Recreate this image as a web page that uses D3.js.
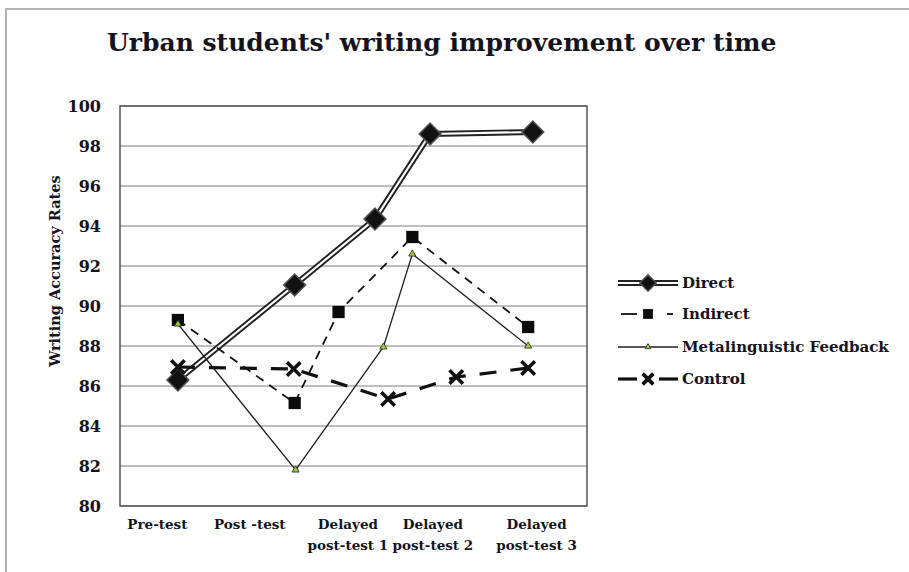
<!DOCTYPE html>
<html>
<head>
<meta charset="utf-8">
<script src="https://cdn.jsdelivr.net/npm/d3@7"></script>
<style>
  body { margin: 0; background: #fff; }
  svg text { font-family: "DejaVu Serif", "Liberation Serif", serif; font-weight: bold; fill: #14141e; }
</style>
</head>
<body>
<div id="chart"></div>
<script>
// category labels and where they sit on the x axis (in category units)
var categories = [["Pre-test"], ["Post -test"], ["Delayed", "post-test 1"], ["Delayed", "post-test 2"], ["Delayed", "post-test 3"]];
var categoryPos = [0.40, 1.39, 2.44, 3.35, 4.46];
var yTicks = [80, 82, 84, 86, 88, 90, 92, 94, 96, 98, 100];

// series values (x in category units, y = accuracy rate)
var directX = [0.62, 1.87, 2.73, 3.32, 4.42];
var directY = [86.3, 91.05, 94.35, 98.6, 98.7];
var indirectX = [0.62, 1.87, 2.34, 3.13, 4.37];
var indirectY = [89.3, 85.15, 89.7, 93.45, 88.95];
var metaX = [0.62, 1.88, 2.82, 3.13, 4.37];
var metaY = [89.1, 81.8, 87.95, 92.6, 88.0];
var controlX = [0.62, 1.86, 2.87, 3.60, 4.37];
var controlY = [86.95, 86.85, 85.35, 86.45, 86.9];

var width = 909,
    height = 572,
    margin = { top: 106, right: 322, bottom: 66, left: 120 };

var svg = d3.select("#chart").append("svg")
    .attr("width", width)
    .attr("height", height);

// outer frame (only top and left edges show)
svg.append("path")
    .attr("d", "M6,572 V9 H909")
    .attr("fill", "none")
    .attr("stroke", "#b4b4b4")
    .attr("stroke-width", 2);

svg.append("text")
    .attr("x", 107)
    .attr("y", 51)
    .style("font-size", "25px")
    .text("Urban students' writing improvement over time");

var x = d3.scaleLinear().domain([0, 5]).range([margin.left, width - margin.right]);
var y = d3.scaleLinear().domain([80, 100]).range([height - margin.bottom, margin.top]);

// gridlines
svg.append("g")
    .selectAll("line")
    .data(yTicks)
    .enter()
    .append("line")
    .attr("x1", x(0))
    .attr("x2", x(5))
    .attr("y1", d => y(d))
    .attr("y2", d => y(d))
    .attr("stroke", "#a8a8a8")
    .attr("stroke-width", 1.5);

// plot border
svg.append("rect")
    .attr("x", x(0))
    .attr("y", y(100))
    .attr("width", x(5) - x(0))
    .attr("height", y(80) - y(100))
    .attr("fill", "none")
    .attr("stroke", "#555")
    .attr("stroke-width", 1.5);

// y axis labels
var yAxis = d3.axisLeft(y).tickValues(yTicks).tickSize(0).tickPadding(19);
svg.append("g")
    .attr("transform", "translate(" + margin.left + ",0)")
    .call(yAxis)
    .call(g => g.select(".domain").remove())
    .selectAll("text")
    .style("font-family", "'DejaVu Serif', serif")
    .style("font-size", "16px")
    .style("font-weight", "bold")
    .attr("fill", "#14141e");

svg.append("text")
    .attr("transform", "translate(55," + ((y(80) + y(100)) / 2 - 35) + ") rotate(-90)")
    .attr("text-anchor", "middle")
    .attr("dy", "0.35em")
    .style("font-size", "14.5px")
    .text("Writing Accuracy Rates");

// category labels
var catG = svg.append("g");
categories.forEach(function (lines, i) {
    var t = catG.append("text")
        .attr("x", x(categoryPos[i]))
        .attr("y", 529)
        .attr("text-anchor", "middle")
        .style("font-size", "13.5px");
    lines.forEach(function (l, j) {
        t.append("tspan")
            .attr("x", x(categoryPos[i]))
            .attr("dy", j === 0 ? 0 : 21)
            .text(l);
    });
});

var line = d3.line().x(d => x(d[0])).y(d => y(d[1]));

function pts(xs, ys) { return xs.map((v, i) => [v, ys[i]]); }

var series = [
    { name: "Direct", data: pts(directX, directY), type: "direct" },
    { name: "Indirect", data: pts(indirectX, indirectY), type: "indirect" },
    { name: "Metalinguistic Feedback", data: pts(metaX, metaY), type: "meta" },
    { name: "Control", data: pts(controlX, controlY), type: "control" }
];

var plot = svg.append("g");

function drawLine(g, s, pathD) {
    if (s.type === "direct") {
        g.append("path").attr("d", pathD).attr("fill", "none")
            .attr("stroke", "#222").attr("stroke-width", 6);
        g.append("path").attr("d", pathD).attr("fill", "none")
            .attr("stroke", "#fff").attr("stroke-width", 2.2);
    } else if (s.type === "indirect") {
        g.append("path").attr("d", pathD).attr("fill", "none")
            .attr("stroke", "#111").attr("stroke-width", 1.8)
            .attr("stroke-dasharray", "9,7");
    } else if (s.type === "meta") {
        g.append("path").attr("d", pathD).attr("fill", "none")
            .attr("stroke", "#222").attr("stroke-width", 1.3);
    } else {
        g.append("path").attr("d", pathD).attr("fill", "none")
            .attr("stroke", "#111").attr("stroke-width", 3.2)
            .attr("stroke-dasharray", "17,14");
    }
}

function drawMarker(g, type, cx, cy, scale) {
    scale = scale || 1;
    if (type === "direct") {
        g.append("path")
            .attr("d", d3.symbol(d3.symbolSquare, 240 * scale * scale)())
            .attr("transform", "translate(" + cx + "," + cy + ") rotate(45)")
            .attr("fill", "#111")
            .attr("stroke", "#555")
            .attr("stroke-width", 1.5);
    } else if (type === "indirect") {
        g.append("path")
            .attr("d", d3.symbol(d3.symbolSquare, 150 * scale * scale)())
            .attr("transform", "translate(" + cx + "," + cy + ")")
            .attr("fill", "#0a0a0a");
    } else if (type === "meta") {
        g.append("path")
            .attr("d", d3.symbol(d3.symbolTriangle, 22 * scale * scale)())
            .attr("transform", "translate(" + cx + "," + cy + ")")
            .attr("fill", "#9acd32")
            .attr("stroke", "#222")
            .attr("stroke-width", 0.8);
    } else {
        g.append("path")
            .attr("d", d3.symbol(d3.symbolX, 120 * scale * scale)())
            .attr("transform", "translate(" + cx + "," + cy + ")")
            .attr("fill", "none")
            .attr("stroke", "#111")
            .attr("stroke-width", 3.6);
    }
}

series.forEach(function (s) {
    var g = plot.append("g");
    drawLine(g, s, line(s.data));
});
series.forEach(function (s) {
    var g = plot.append("g");
    s.data.forEach(d => drawMarker(g, s.type, x(d[0]), y(d[1])));
});

// legend
var legend = svg.append("g");
series.forEach(function (s, i) {
    var ly = [283, 314, 347, 379][i];
    var g = legend.append("g");
    var x0 = 618, x1 = 678, xm = 648;
    if (s.type === "indirect") {
        g.append("line").attr("x1", 621).attr("x2", 637).attr("y1", ly).attr("y2", ly)
            .attr("stroke", "#111").attr("stroke-width", 1.8);
        g.append("line").attr("x1", 667).attr("x2", 673).attr("y1", ly).attr("y2", ly)
            .attr("stroke", "#111").attr("stroke-width", 1.8);
    } else if (s.type === "control") {
        g.append("line").attr("x1", 618).attr("x2", 637).attr("y1", ly).attr("y2", ly)
            .attr("stroke", "#111").attr("stroke-width", 3.2);
        g.append("line").attr("x1", 659).attr("x2", 678).attr("y1", ly).attr("y2", ly)
            .attr("stroke", "#111").attr("stroke-width", 3.2);
    } else {
        drawLine(g, s, "M" + x0 + "," + ly + "H" + x1);
    }
    drawMarker(g, s.type, xm, ly, s.type === "direct" ? 0.75 : 0.8);
    g.append("text")
        .attr("x", 682)
        .attr("y", ly)
        .attr("dy", "0.35em")
        .style("font-size", "15px")
        .text(s.name);
});
</script>
</body>
</html>
